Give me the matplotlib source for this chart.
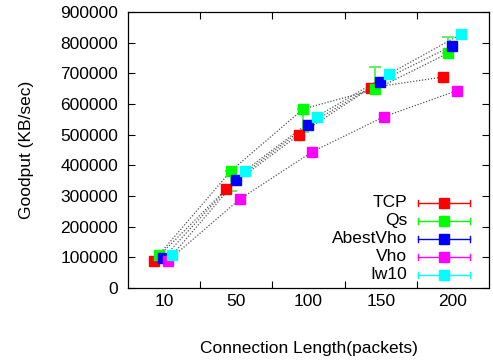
import matplotlib
matplotlib.use("Agg")
import matplotlib.pyplot as plt
import numpy as np

plt.rcParams['font.family'] = ['Liberation Sans', 'DejaVu Sans']

# goodput per connection length, one list per variant
lengths = ["10", "50", "100", "150", "200"]
tcp = [89000, 323000, 499000, 653000, 688000]
qs = [108000, 382000, 584000, 648000, 765000]
abestvho = [99000, 352000, 531000, 673000, 790000]
vho = [88000, 290000, 444000, 559000, 643000]
iw10 = [108000, 382000, 559000, 698000, 828000]

# Qs spread (below, above)
qs_err_low = [0, 65000, 74000, 0, 0]
qs_err_high = [0, 0, 0, 73000, 54000]

series = [
    ("TCP", tcp, "#ff0000"),
    ("Qs", qs, "#00ff00"),
    ("AbestVho", abestvho, "#0000ff"),
    ("Vho", vho, "#ff00ff"),
    ("Iw10", iw10, "#00ffff"),
]
offsets = [-0.138, -0.073, -0.01, 0.05, 0.116]
fs = 12.5

fig = plt.figure(figsize=(4.93, 3.62), dpi=100)
ax = fig.add_axes([0.2596, 0.2044, 0.7324, 0.7625])

centers = np.arange(len(lengths)) + 0.5

# dotted connecting lines first, markers on top
for (name, vals, col), off in zip(series, offsets):
    ax.plot(centers + off, vals, linestyle=(0, (1, 1.4)), color="#555555",
            linewidth=0.9, zorder=2)

qx = centers + offsets[1]
for x, v, lo, hi in zip(qx, qs, qs_err_low, qs_err_high):
    if lo == 0 and hi == 0:
        continue
    ax.errorbar([x], [v], yerr=[[lo], [hi]], fmt="none", ecolor="#55ee55",
                elinewidth=1.3, capsize=4.5, capthick=1.3, zorder=3)

for (name, vals, col), off in zip(series, offsets):
    ax.plot(centers + off, vals, linestyle="none", marker="s", markersize=7.5,
            markerfacecolor=col, markeredgecolor=col, zorder=4)

# legend drawn gnuplot style: right aligned text, errorbar sample
for i, (name, vals, col) in enumerate(series):
    yy = 0.309 - i * 0.0652
    ax.text(0.773, yy, name, transform=ax.transAxes, ha="right", va="center",
            fontsize=fs)
    ax.plot([0.8025, 0.947], [yy, yy], transform=ax.transAxes, color=col,
            linewidth=1.0, zorder=5)
    for ex in (0.8025, 0.947):
        ax.plot([ex, ex], [yy - 0.011, yy + 0.011], transform=ax.transAxes,
                color=col, linewidth=1.0, zorder=5)
    ax.plot([0.875], [yy], transform=ax.transAxes, marker="s", markersize=7.5,
            color=col, zorder=6)

ax.set_xlim(0, len(lengths))
ax.set_ylim(0, 900000)
ax.set_yticks(np.arange(0, 900001, 100000))
ax.set_yticklabels([str(v) for v in range(0, 900001, 100000)])
ax.set_xticks(np.arange(1, len(lengths)))
ax.set_xticklabels([])
ax.set_xticks(centers, minor=True)
ax.set_xticklabels(lengths, minor=True)

ax.tick_params(axis="both", which="major", direction="in", length=5,
               width=0.8, labelsize=fs, top=True, right=True)
ax.tick_params(axis="x", which="minor", length=0, labelsize=fs, pad=4)
ax.tick_params(axis="y", pad=7)

for s in ax.spines.values():
    s.set_linewidth(0.9)

ax.set_ylabel("Goodput (KB/sec)", fontsize=fs, labelpad=19)
ax.set_xlabel("Connection Length(packets)", fontsize=fs, labelpad=23)

fig.savefig("out.png", dpi=100)
